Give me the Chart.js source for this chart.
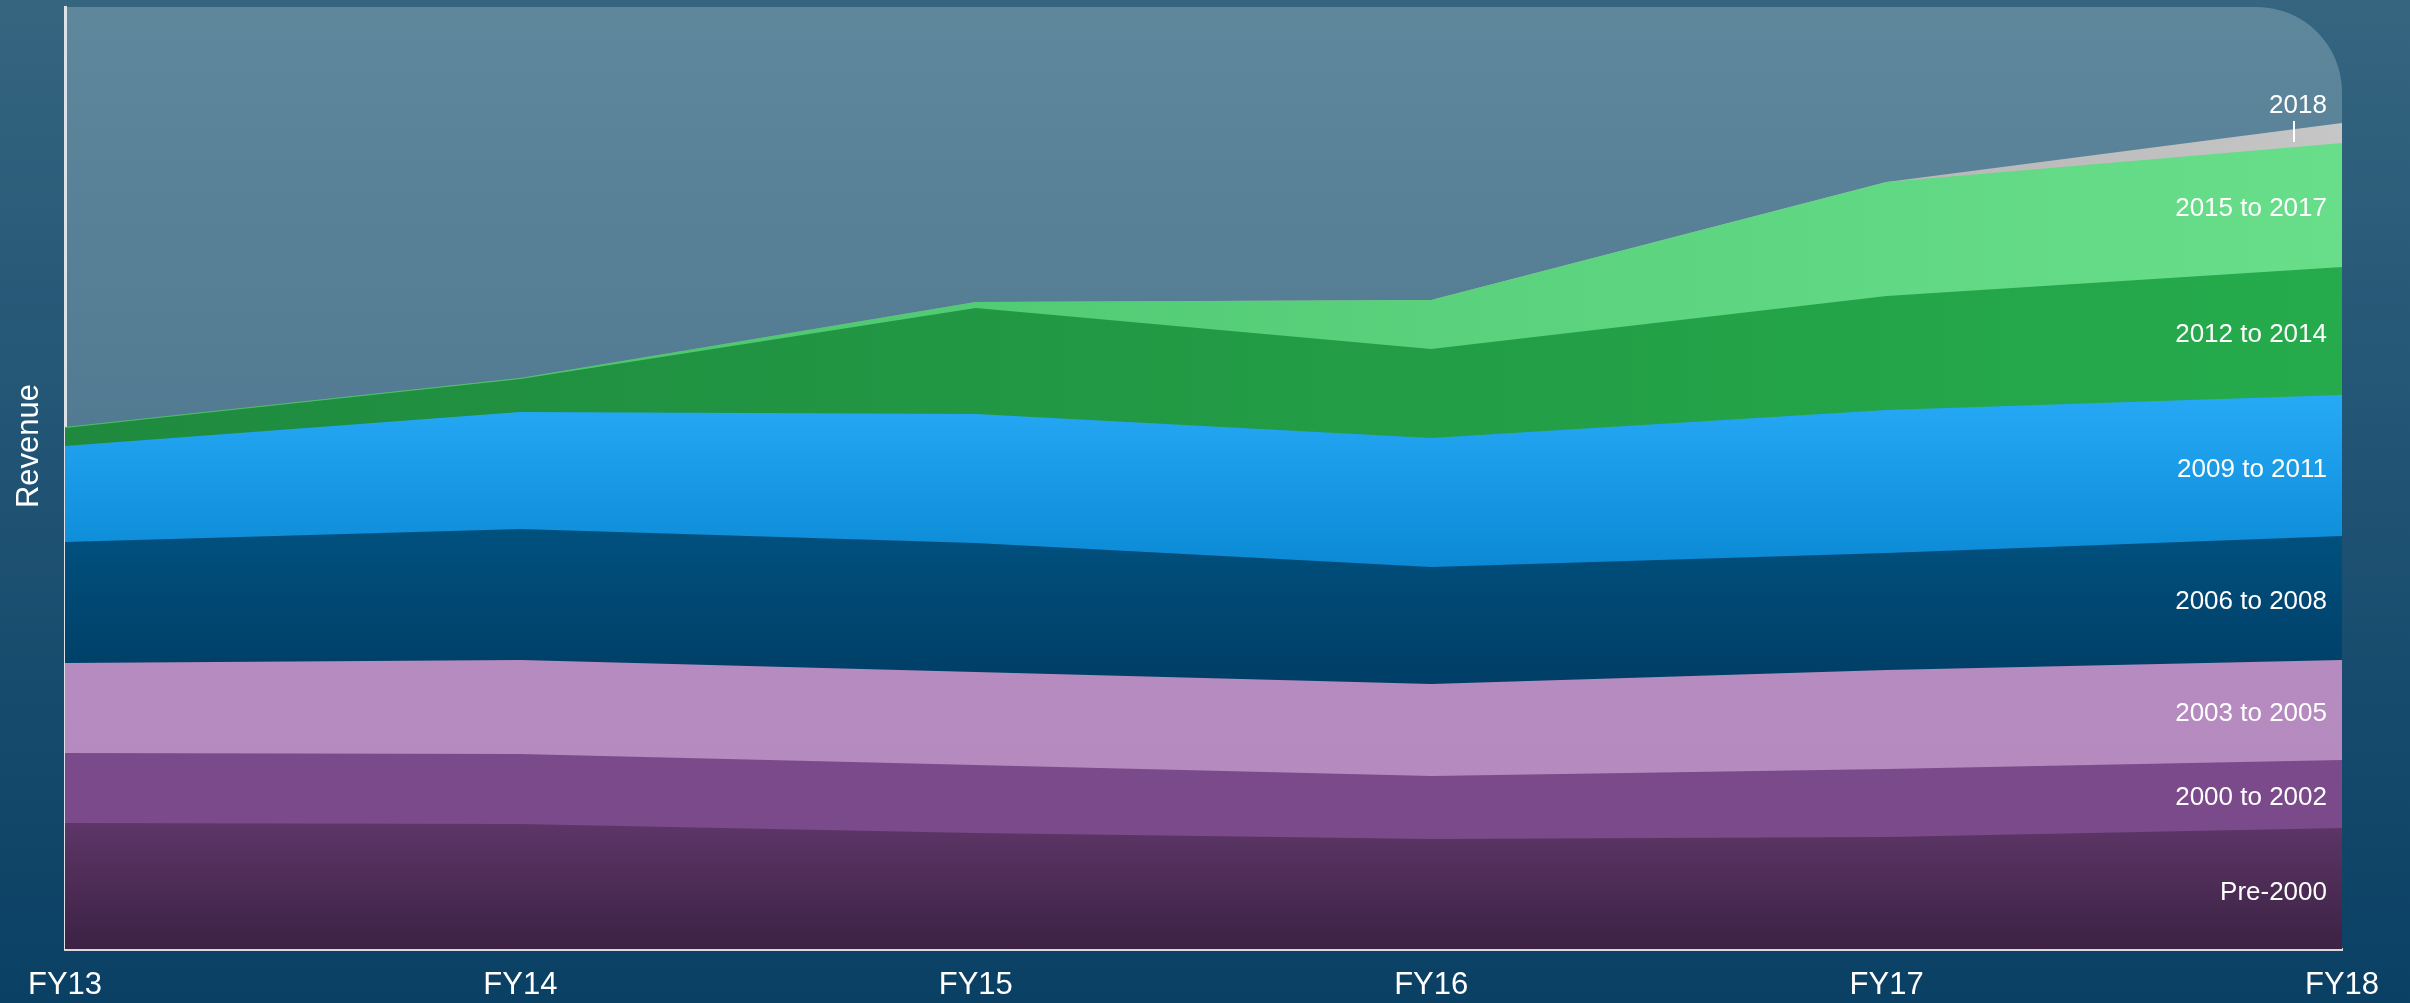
<!DOCTYPE html>
<html>
<head>
<meta charset="utf-8">
<title>Revenue by vintage</title>
<script src="https://cdn.jsdelivr.net/npm/chart.js"></script>
<style>
    html, body {
        margin: 0;
        padding: 0;
        width: 2410px;
        height: 1003px;
        overflow: hidden;
        background: linear-gradient(to bottom, #35657f 0%, #1f5273 50%, #0a4064 100%);
    }
    canvas { display: block; }
</style>
</head>
<body>
<canvas id="areaChart" width="2410" height="1003"></canvas>
<script>
// fiscal years on the x axis
const yearsLabel = ['FY13', 'FY14', 'FY15', 'FY16', 'FY17', 'FY18'];

// revenue per customer vintage (no axis ticks so units are relative)
const pre2000 = [126, 125, 116, 110, 112, 121];
const from2000to2002 = [70, 70, 68, 63, 68, 68];
const from2003to2005 = [90, 94, 93, 92, 99, 100];
const from2006to2008 = [121, 131, 129, 117, 117, 124];
const from2009to2011 = [96, 117, 129, 129, 143, 141];
const from2012to2014 = [18, 33, 106, 89, 114, 128];
const from2015to2017 = [1, 1, 6, 49, 114, 124];
const in2018 = [0, 0, 0, 0, 0, 20];

const seriesNames = ['Pre-2000', '2000 to 2002', '2003 to 2005', '2006 to 2008', '2009 to 2011', '2012 to 2014', '2015 to 2017', '2018'];
const seriesValues = [pre2000, from2000to2002, from2003to2005, from2006to2008, from2009to2011, from2012to2014, from2015to2017, in2018];
const revenueMax = 942;

// gradient stops for each band: [direction, color at start, color at end]
const bandColors = [
    ['v', '#5d3667', '#3c2244'],
    ['v', '#7b4a8a', '#7b4a8a'],
    ['v', '#b58bc0', '#b48abf'],
    ['v', '#00517f', '#003e66'],
    ['v', '#27aaf6', '#0b89d5'],
    ['h', '#1f8a3e', '#25ab4c'],
    ['h', '#44bf67', '#68de8b'],
    ['h', '#7c7c7c', '#c6c6c6']
];

// cumulative totals so the gradient can follow each band
function stackTotals(upTo) {
    return yearsLabel.map((_, k) => {
        let sum = 0;
        for (let s = 0; s <= upTo; s++) sum += seriesValues[s][k];
        return sum;
    });
}

function bandFill(context, index) {
    const chart = context.chart;
    const area = chart.chartArea;
    const c = bandColors[index];
    if (!area) return c[1];
    const yScale = chart.scales.y;
    const top = yScale.getPixelForValue(Math.max(...stackTotals(index)));
    const bottom = index > 0 ? yScale.getPixelForValue(Math.min(...stackTotals(index - 1))) : area.bottom;
    let g;
    if (c[0] === 'v') {
        g = chart.ctx.createLinearGradient(0, top, 0, bottom);
    } else {
        g = chart.ctx.createLinearGradient(area.left, 0, area.right, 0);
    }
    g.addColorStop(0, c[1]);
    g.addColorStop(1, c[2]);
    return g;
}

// rounded panel behind the areas
const panelPlugin = {
    id: 'panel',
    beforeDraw(chart) {
        const {ctx, chartArea} = chart;
        const g = ctx.createLinearGradient(0, chartArea.top, 0, chartArea.bottom);
        g.addColorStop(0, '#5e879c');
        g.addColorStop(1, '#436b86');
        ctx.save();
        ctx.fillStyle = g;
        ctx.beginPath();
        ctx.roundRect(chartArea.left, chartArea.top, chartArea.right - chartArea.left, chartArea.bottom - chartArea.top, [0, 85, 0, 0]);
        ctx.fill();
        ctx.restore();
    }
};

// labels at the right end of every band + the axis title
const bandLabelPlugin = {
    id: 'bandLabels',
    afterDraw(chart) {
        const {ctx, chartArea} = chart;
        const last = yearsLabel.length - 1;
        ctx.save();
        ctx.fillStyle = '#ffffff';
        ctx.font = "26px 'Liberation Sans', Arial, sans-serif";
        ctx.textBaseline = 'middle';
        seriesNames.forEach((name, i) => {
            const yTop = chart.getDatasetMeta(i).data[last].y;
            const yBottom = i > 0 ? chart.getDatasetMeta(i - 1).data[last].y : chartArea.bottom;
            if (i === seriesNames.length - 1) {
                // thin band: label above with a small pointer
                const cx = chartArea.right - 44;
                ctx.textAlign = 'center';
                ctx.fillText(name, cx, yTop - 17);
                ctx.strokeStyle = '#ffffff';
                ctx.lineWidth = 2;
                ctx.beginPath();
                ctx.moveTo(cx - 4, yTop - 2);
                ctx.lineTo(cx - 4, yBottom - 1);
                ctx.stroke();
            } else {
                ctx.textAlign = 'right';
                ctx.fillText(name, chartArea.right - 15, (yTop + yBottom) / 2 + 4);
            }
        });

        // y axis title
        ctx.font = "31px 'Liberation Sans', Arial, sans-serif";
        ctx.translate(chartArea.left - 36, (chartArea.top + chartArea.bottom) / 2 - 32);
        ctx.rotate(-Math.PI / 2);
        ctx.textAlign = 'center';
        ctx.fillText('Revenue', 0, 0);
        ctx.restore();
    }
};

Chart.defaults.font.family = "'Liberation Sans', Arial, sans-serif";
Chart.defaults.color = '#ffffff';

new Chart('areaChart', {
    type: 'line',
    data: {
        labels: yearsLabel,
        datasets: seriesNames.map((name, i) => ({
            label: name,
            data: seriesValues[i],
            fill: 'origin',
            backgroundColor: (context) => bandFill(context, i),
            borderWidth: 0,
            pointRadius: 0,
            tension: 0
        }))
    },
    options: {
        responsive: false,
        animation: false,
        layout: {
            padding: {top: 7, right: 68, left: 0, bottom: 0}
        },
        plugins: {
            legend: {display: false},
            tooltip: {enabled: false}
        },
        scales: {
            x: {
                offset: false,
                grid: {display: false, drawTicks: false},
                border: {display: true, color: '#d6d9dc', width: 3},
                ticks: {
                    color: '#ffffff',
                    font: {size: 31},
                    padding: 18,
                    maxRotation: 0,
                    autoSkip: false
                },
                afterFit(scale) { scale.height = 54; }
            },
            y: {
                stacked: true,
                min: 0,
                max: revenueMax,
                grid: {display: false, drawTicks: false},
                border: {display: true, color: '#dde3e8', width: 3},
                ticks: {display: false},
                afterFit(scale) { scale.width = 65; }
            }
        }
    },
    plugins: [panelPlugin, bandLabelPlugin]
});
</script>
</body>
</html>
